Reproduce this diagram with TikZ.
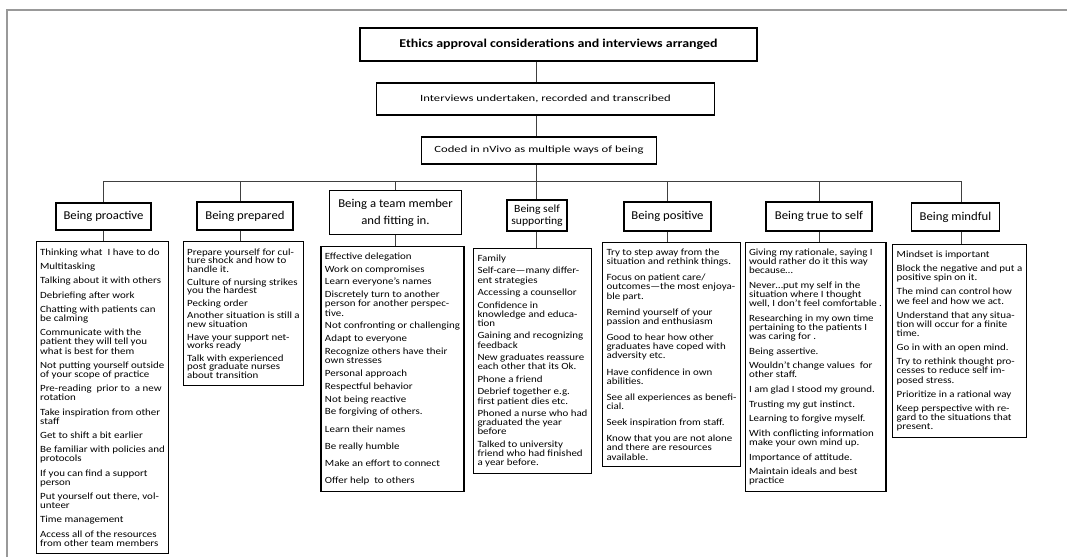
\documentclass[tikz,border=0pt]{standalone}
\usepackage{fontspec}
\setmainfont{Carlito}
\newfontfamily\titlefont[FakeStretch=1.16]{Carlito}
\newfontfamily\stagefont[FakeStretch=1.33]{Carlito}
\newfontfamily\themefont[FakeStretch=1.06]{Carlito}
\newfontfamily\itemfont[FakeStretch=1.15]{Carlito}
\usetikzlibrary{positioning}

\newcommand{\itemgap}{4.5pt}
\newcommand{\nextitem}{\\[\itemgap]}

\tikzset{
  stagebox/.style={draw, line width=1.3pt, inner sep=0pt, align=center},
  themebox/.style={draw, line width=1.4pt, inner sep=0pt, align=center,
    font=\themefont\fontsize{12}{17}\selectfont},
  listbox/.style={draw, line width=1.1pt, anchor=north, align=left,
    inner xsep=4pt, inner ysep=6pt, font=\itemfont\fontsize{9.5}{9.2}\selectfont,
    execute at begin node={\renewcommand{\itemgap}{#1}}},
  link/.style={draw=black!75, line width=0.9pt},
}

\begin{document}
\begin{tikzpicture}[x=1pt, y=-1pt]
    \useasboundingbox (0,0) rectangle (1067,557);
    % Khung ngoài
    \draw[gray!80, line width=1.6pt] (7,557) -- (7,10) -- (1067,10);

    % Ba bước trên cùng
    \node[stagebox, minimum width=397pt, minimum height=33pt,
      font=\titlefont\bfseries\fontsize{12}{14}\selectfont] (ethics) at (558.5,44.5)
      {Ethics approval considerations and interviews arranged};
    \node[stagebox, minimum width=338pt, minimum height=32pt,
      font=\stagefont\fontsize{9.5}{11}\selectfont] (interviews) at (545.5,99)
      {Interviews undertaken, recorded and transcribed};
    \node[stagebox, minimum width=235pt, minimum height=27pt,
      font=\stagefont\fontsize{9.5}{11}\selectfont] (coded) at (539,150.5)
      {Coded in nVivo as multiple ways of being};
    \coordinate (spine) at (536.5,181);

    \draw[link] (ethics.south -| spine) -- (interviews.north -| spine);
    \draw[link] (interviews.south -| spine) -- (coded.north -| spine);
    \draw[link] (coded.south -| spine) -- (spine);

    % Các cách "being"
    \node[themebox, minimum width=95pt, minimum height=27pt] (proactive) at (103.5,216.5) {Being proactive};
    \node[themebox, minimum width=96pt, minimum height=28pt] (prepared) at (245,216) {Being prepared};
    \node[themebox, minimum width=132pt, minimum height=44pt] (team) at (395.5,212.5) {Being a team member\\and fitting in.};
    \node[themebox, minimum width=60pt, minimum height=31pt,
      font=\themefont\fontsize{11}{12}\selectfont] (selfsup) at (537,215.5) {Being self\\supporting};
    \node[themebox, minimum width=87pt, minimum height=29pt] (positive) at (667.5,216.5) {Being positive};
    \node[themebox, minimum width=106pt, minimum height=29pt] (trueself) at (819,216.5) {Being true to self};
    \node[themebox, minimum width=88pt, minimum height=28pt] (mindful) at (955.5,217) {Being mindful};

    % Danh sách dưới mỗi hộp
    \node[listbox=5pt, minimum width=130pt, minimum height=312pt] (proactive-list) at (102.5,241) {%
      Thinking what \ I have to do\nextitem
      Multitasking\nextitem
      Talking about it with others\nextitem
      Debriefing after work\nextitem
      Chatting with patients can\\be calming\nextitem
      Communicate with the\\patient they will tell you\\what is best for them\nextitem
      Not putting yourself outside\\of your scope of practice\nextitem
      Pre-reading \ prior to \ a new\\rotation\nextitem
      Take inspiration from other\\staff\nextitem
      Get to shift a bit earlier\nextitem
      Be familiar with policies and\\protocols\nextitem
      If you can find a support\\person\nextitem
      Put yourself out there, vol-\\unteer\nextitem
      Time management\nextitem
      Access all of the resources\\from other team members};

    \node[listbox=4pt, minimum width=118pt, minimum height=144pt,
      font=\itemfont\fontsize{9.5}{8.6}\selectfont] (prepared-list) at (243.5,241) {%
      Prepare yourself for cul-\\ture shock and how to\\handle it.\nextitem
      Culture of nursing strikes\\you the hardest\nextitem
      Pecking order\nextitem
      Another situation is still a\\new situation\nextitem
      Have your support net-\\works ready\nextitem
      Talk with experienced\\post graduate nurses\\about transition};

    \node[listbox=3.6pt, minimum width=138pt, minimum height=245pt] (team-list) at (392.5,246) {%
      Effective delegation\nextitem
      Work on compromises\nextitem
      Learn everyone’s names\nextitem
      Discretely turn to another\\person for another perspec-\\tive.\nextitem
      Not confronting or challenging\nextitem
      Adapt to everyone\nextitem
      Recognize others have their\\own stresses\nextitem
      Personal approach\nextitem
      Respectful behavior\nextitem
      Not being reactive\nextitem
      Be forgiving of others.\\[8pt]
      Learn their names\\[8pt]
      Be really humble\\[8pt]
      Make an effort to connect\\[8pt]
      Offer help \ to others};

    \node[listbox=3.3pt, minimum width=115pt, minimum height=225pt] (selfsup-list) at (532.5,248) {%
      Family\nextitem
      Self-care—many differ-\\ent strategies\nextitem
      Accessing a counsellor\nextitem
      Confidence in\\knowledge and educa-\\tion\nextitem
      Gaining and recognizing\\feedback\nextitem
      New graduates reassure\\each other that its Ok.\nextitem
      Phone a friend\nextitem
      Debrief together e.g.\\first patient dies etc.\nextitem
      Phoned a nurse who had\\graduated the year\\before\nextitem
      Talked to university\\friend who had finished\\a year before.};

    \node[listbox=6.9pt, minimum width=132pt, minimum height=224pt] (positive-list) at (671.5,242) {%
      Try to step away from the\\situation and rethink things.\nextitem
      Focus on patient care/\\outcomes—the most enjoya-\\ble part.\nextitem
      Remind yourself of your\\passion and enthusiasm\nextitem
      Good to hear how other\\graduates have coped with\\adversity etc.\nextitem
      Have confidence in own\\abilities.\nextitem
      See all experiences as benefi-\\cial.\nextitem
      Seek inspiration from staff.\nextitem
      Know that you are not alone\\and there are resources\\available.};

    \node[listbox=5.4pt, minimum width=138pt, minimum height=248pt] (trueself-list) at (815.5,242) {%
      Giving my rationale, saying I\\would rather do it this way\\because…\nextitem
      Never…put my self in the\\situation where I thought\\well, I don’t feel comfortable .\nextitem
      Researching in my own time\\pertaining to the patients I\\was caring for .\nextitem
      Being assertive.\nextitem
      Wouldn’t change values \ for\\other staff.\nextitem
      I am glad I stood my ground.\nextitem
      Trusting my gut instinct.\nextitem
      Learning to forgive myself.\nextitem
      With conflicting information\\make your own mind up.\nextitem
      Importance of attitude.\nextitem
      Maintain ideals and best\\practice};

    \node[listbox=4.9pt, minimum width=130pt, minimum height=193pt] (mindful-list) at (959.5,244) {%
      Mindset is important\nextitem
      Block the negative and put a\\positive spin on it.\nextitem
      The mind can control how\\we feel and how we act.\nextitem
      Understand that any situa-\\tion will occur for a finite\\time.\nextitem
      Go in with an open mind.\nextitem
      Try to rethink thought pro-\\cesses to reduce self im-\\posed stress.\nextitem
      Prioritize in a rational way\nextitem
      Keep perspective with re-\\gard to the situations that\\present.};

    % Đường nối
    \foreach \n/\s in {proactive/0,prepared/-5,team/0,selfsup/-0.5,positive/0,trueself/0,mindful/5.5}
    {
      \draw[link] (spine) -| ([xshift=\s pt]\n.north);
      \draw[link] ([xshift=\s pt]\n.south) -- ([xshift=\s pt]\n.south |- \n-list.north);
    }
\end{tikzpicture}
\end{document}
